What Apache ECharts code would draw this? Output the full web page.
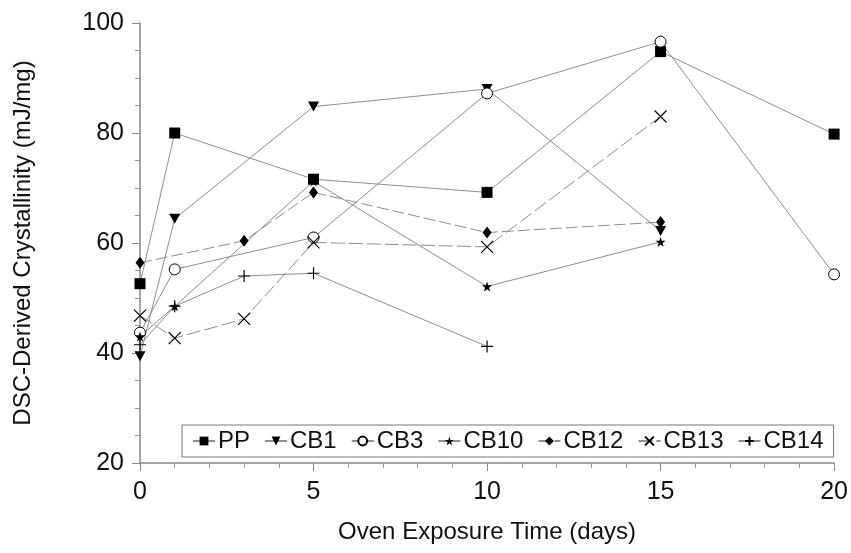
<!DOCTYPE html>
<html>
<head>
<meta charset="utf-8">
<script src="https://cdn.jsdelivr.net/npm/echarts@6/dist/echarts.min.js"></script>
<style>
  html, body { margin: 0; padding: 0; background: #fff; }
  #chart { width: 851px; height: 553px; }
</style>
</head>
<body>
<div id="chart"></div>
<script>
// Oven exposure time (days) and DSC-derived crystallinity (mJ/mg) for each sample
const ppDays = [0, 1, 5, 10, 15, 20];
const ppVals = [52.6, 80, 71.6, 69.2, 94.8, 79.8];
const cb1Days = [0, 1, 5, 10, 15];
const cb1Vals = [39.4, 64.4, 84.8, 88, 62.2];
const cb3Days = [0, 1, 5, 10, 15, 20];
const cb3Vals = [43.7, 55.2, 61, 87.2, 96.6, 54.3];
const cb10Days = [0, 1, 5, 10, 15];
const cb10Vals = [43, 48.5, 71.2, 52.1, 60.2];
const cb12Days = [0, 3, 5, 10, 15];
const cb12Vals = [56.4, 60.4, 69.2, 61.9, 63.8];
const cb13Days = [0, 1, 3, 5, 10, 15];
const cb13Vals = [46.8, 42.7, 46.2, 60.1, 59.3, 83];
const cb14Days = [0, 1, 3, 5, 10];
const cb14Vals = [41.5, 48.5, 54, 54.5, 41.2];

const xTicks = [0, 5, 10, 15, 20];
const yTicks = [20, 40, 60, 80, 100];

const FONT = 'Liberation Sans, Arial, sans-serif';
const LINE = '#8f8f8f';

const STAR = 'path://M5,0L6.2,3.6L10,3.6L7,5.9L8.1,9.5L5,7.3L1.9,9.5L3,5.9L0,3.6L3.8,3.6Z';
const TRI_DOWN = 'path://M0,0L10,0L5,9Z';
const CROSS_X = 'path://M0,0L10,10M10,0L0,10';
const PLUS = 'path://M5,0L5,10M0,5L10,5';

function pairs(days, vals) {
  return days.map((d, i) => [d, vals[i]]);
}

function makeSeries(name, days, vals, symbol, size, opts) {
  opts = opts || {};
  return {
    name: name,
    type: 'line',
    data: pairs(days, vals),
    symbol: symbol,
    symbolSize: size,
    showAllSymbol: true,
    lineStyle: { color: LINE, width: 1, type: opts.dash || 'solid' },
    itemStyle: {
      color: opts.fill || '#000',
      borderColor: '#000',
      borderWidth: opts.stroke || 0
    },
    emphasis: { disabled: true },
    z: 3
  };
}

const chart = echarts.init(document.getElementById('chart'), null, { renderer: 'canvas' });

chart.setOption({
  animation: false,
  backgroundColor: '#fff',
  grid: { left: 140, right: 16, top: 23, bottom: 90 },
  textStyle: { fontFamily: FONT },
  xAxis: {
    type: 'value',
    min: xTicks[0],
    max: xTicks[xTicks.length - 1],
    interval: xTicks[1] - xTicks[0],
    name: 'Oven Exposure Time (days)',
    nameLocation: 'middle',
    nameGap: 57,
    nameTextStyle: { fontSize: 24, color: '#111', fontFamily: FONT },
    axisLine: { lineStyle: { color: '#888', width: 1.5 } },
    axisTick: { show: true, inside: false, length: 8, lineStyle: { color: '#888' } },
    minorTick: { show: true, splitNumber: 5, length: 5, lineStyle: { color: '#999' } },
    axisLabel: { fontSize: 25, color: '#111', margin: 17, fontFamily: FONT },
    splitLine: { show: false }
  },
  yAxis: {
    type: 'value',
    min: yTicks[0],
    max: yTicks[yTicks.length - 1],
    interval: yTicks[1] - yTicks[0],
    name: 'DSC-Derived Crystallinity (mJ/mg)',
    nameLocation: 'middle',
    nameGap: 105,
    nameRotate: 90,
    nameTextStyle: { fontSize: 24, color: '#111', fontFamily: FONT },
    axisLine: { show: true, lineStyle: { color: '#888', width: 1.5 } },
    axisTick: { show: true, inside: false, length: 8, lineStyle: { color: '#888' } },
    minorTick: { show: true, splitNumber: 4, length: 5, lineStyle: { color: '#999' } },
    axisLabel: { fontSize: 25, color: '#111', margin: 16, fontFamily: FONT },
    splitLine: { show: false }
  },
  legend: {
    left: 182,
    top: 425,
    width: 651,
    orient: 'horizontal',
    borderColor: '#777',
    borderWidth: 1,
    padding: [4, 10, 4, 10],
    itemGap: 14,
    itemWidth: 22,
    itemHeight: 11,
    textStyle: { fontSize: 24, color: '#111', fontFamily: FONT, padding: [0, 0, 0, -2] },
    data: ['PP', 'CB1', 'CB3', 'CB10', 'CB12', 'CB13', 'CB14']
  },
  series: [
    makeSeries('PP', ppDays, ppVals, 'rect', 11),
    makeSeries('CB1', cb1Days, cb1Vals, TRI_DOWN, [11, 10]),
    makeSeries('CB3', cb3Days, cb3Vals, 'circle', 11, { fill: '#fff', stroke: 1 }),
    makeSeries('CB10', cb10Days, cb10Vals, STAR, 10),
    makeSeries('CB12', cb12Days, cb12Vals, 'diamond', [9, 12], { dash: [12, 4] }),
    makeSeries('CB13', cb13Days, cb13Vals, CROSS_X, 12, { stroke: 1.2, dash: [14, 4] }),
    makeSeries('CB14', cb14Days, cb14Vals, PLUS, 12, { stroke: 1.2 })
  ]
});
</script>
</body>
</html>
